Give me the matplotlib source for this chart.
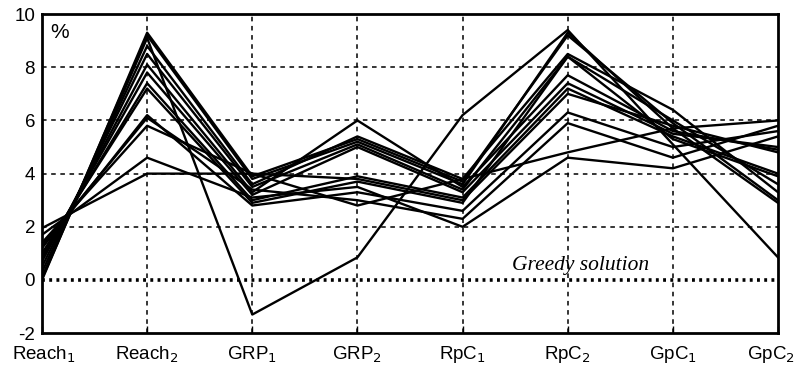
import numpy as np
import matplotlib.pyplot as plt
from matplotlib.transforms import ScaledTranslation

plt.rcParams['axes.unicode_minus'] = False

# category labels along x
labels = ["Reach$_1$", "Reach$_2$", "GRP$_1$", "GRP$_2$",
          "RpC$_1$", "RpC$_2$", "GpC$_1$", "GpC$_2$"]

# one row per solution (values in %)
s01 = [0.05, 9.1, -1.3, 0.85, 6.2, 9.4, 5.1, 0.85]
s02 = [0.0, 9.3, 3.9, 5.3, 3.7, 9.2, 5.9, 3.0]
s03 = [0.1, 9.2, 3.8, 5.2, 3.6, 9.3, 5.7, 2.9]
s04 = [0.3, 8.8, 3.6, 5.4, 3.8, 8.5, 6.4, 3.3]
s05 = [0.5, 8.5, 3.5, 5.1, 3.4, 8.4, 6.0, 3.6]
s06 = [0.7, 8.1, 3.3, 6.0, 3.5, 7.7, 5.6, 4.9]
s07 = [0.8, 7.8, 3.2, 5.0, 3.3, 7.4, 5.5, 5.0]
s08 = [0.9, 7.4, 3.0, 3.9, 3.1, 7.2, 5.4, 4.0]
s09 = [1.0, 7.2, 2.9, 3.7, 2.9, 8.4, 5.3, 3.9]
s10 = [1.2, 6.2, 2.8, 3.3, 2.6, 6.3, 5.0, 5.6]
s11 = [1.3, 6.1, 3.4, 3.0, 2.3, 5.9, 4.6, 5.8]
s12 = [1.4, 5.8, 4.0, 2.8, 3.8, 4.8, 5.7, 6.0]
s13 = [1.7, 4.6, 3.1, 3.5, 2.0, 4.6, 4.2, 5.4]
s14 = [1.95, 4.0, 4.0, 3.8, 3.0, 7.0, 5.8, 4.8]
series = [s01, s02, s03, s04, s05, s06, s07, s08, s09, s10, s11, s12, s13, s14]

fig = plt.figure(figsize=(8, 3.71), dpi=100)
ax = fig.add_axes([0.0525, 0.102, 0.92, 0.86])
x = np.arange(len(labels))

# grid
for xi in x[1:-1]:
    ax.axvline(xi, color='black', lw=1.1, ls=(0, (3, 3)), zorder=1)
for yv in [2, 4, 6, 8]:
    ax.axhline(yv, color='black', lw=1.1, ls=(0, (3, 3)), zorder=1)
ax.axhline(0, color='black', lw=2.6, ls=(0, (0.8, 1.2)), zorder=1)

for s in series:
    ax.plot(x, s, color='black', lw=1.7, zorder=2)

ax.set_xlim(0, 7)
ax.set_ylim(-2, 10)
ax.set_yticks([-2, 0, 2, 4, 6, 8, 10])
ax.set_xticks(x)
ax.set_xticklabels(labels, fontsize=13.5, family='Liberation Sans')
for t in ax.get_yticklabels():
    t.set_fontsize(13.5)
    t.set_family('Liberation Sans')
ax.tick_params(axis='y', length=0, pad=5)
ax.tick_params(axis='x', direction='in', length=5, width=1, pad=8)
for sp in ax.spines.values():
    sp.set_linewidth(2)

# keep the last label inside the figure
last = ax.get_xticklabels()[-1]
last.set_transform(last.get_transform() + ScaledTranslation(-0.07, 0, fig.dpi_scale_trans))
first = ax.get_xticklabels()[0]
first.set_transform(first.get_transform() + ScaledTranslation(0.02, 0, fig.dpi_scale_trans))

ax.text(0.08, 9.3, "%", fontsize=15, family='Liberation Sans', va='center')
ax.text(4.47, 0.56, "Greedy solution", fontsize=15.5, family='Liberation Serif',
        style='italic', va='center')

plt.savefig("out.png", dpi=100)
